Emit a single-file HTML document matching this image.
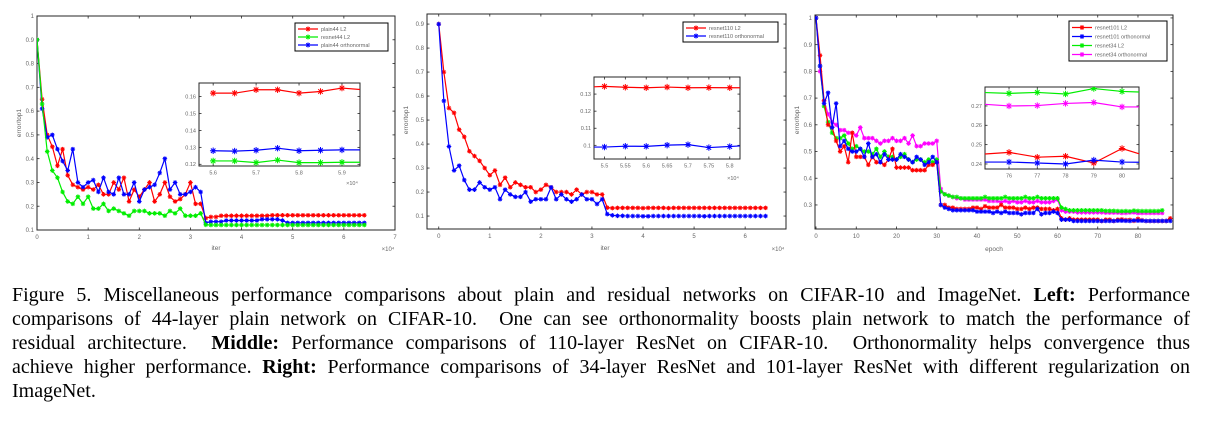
<!DOCTYPE html>
<html><head><meta charset="utf-8">
<style>
body{margin:0;background:#fff;width:1212px;height:429px;overflow:hidden;position:relative}
svg{position:absolute;left:0;top:0}
#cap{position:absolute;left:12px;top:283px;width:1178px;font-family:"Liberation Serif",serif;font-size:20px;line-height:24px;color:#000}
#cap div{text-align:justify;text-align-last:justify;white-space:nowrap;word-spacing:0}
#cap div.last{text-align-last:left}
</style></head><body>
<svg id="fig" width="1212" height="270"></svg>
<div id="cap">
<div>Figure 5. Miscellaneous performance comparisons about plain and residual networks on CIFAR-10 and ImageNet. <b>Left:</b> Performance</div>
<div>comparisons of 44-layer plain network on CIFAR-10. &nbsp;One can see orthonormality boosts plain network to match the performance of</div>
<div>residual architecture. &nbsp;<b>Middle:</b> Performance comparisons of 110-layer ResNet on CIFAR-10. &nbsp;Orthonormality helps convergence thus</div>
<div>achieve higher performance. <b>Right:</b> Performance comparisons of 34-layer ResNet and 101-layer ResNet with different regularization on</div>
<div class="last">ImageNet.</div>
</div>
<script>
// ---------- Chart 1 data (x in units of 1e4 iter, step 0.1) ----------
const c1_x = [0,0.1,0.2,0.3,0.4,0.5,0.6,0.7,0.8,0.9,1.0,1.1,1.2,1.3,1.4,1.5,1.6,1.7,1.8,1.9,2.0,2.1,2.2,2.3,2.4,2.5,2.6,2.7,2.8,2.9,3.0,3.1,3.2,3.3,3.4,3.5,3.6,3.7,3.8,3.9,4.0,4.1,4.2,4.3,4.4,4.5,4.6,4.7,4.8,4.9,5.0,5.1,5.2,5.3,5.4,5.5,5.6,5.7,5.8,5.9,6.0,6.1,6.2,6.3,6.4];
const c1_plainL2 = [0.9,0.65,0.50,0.45,0.37,0.44,0.33,0.29,0.28,0.27,0.28,0.27,0.29,0.25,0.25,0.30,0.27,0.32,0.22,0.27,0.24,0.27,0.30,0.22,0.25,0.30,0.24,0.22,0.23,0.25,0.30,0.21,0.21,0.15,0.155,0.155,0.16,0.16,0.16,0.16,0.16,0.16,0.16,0.16,0.16,0.16,0.162,0.162,0.162,0.162,0.162,0.162,0.162,0.162,0.162,0.162,0.162,0.162,0.162,0.162,0.162,0.162,0.162,0.162,0.162];
const c1_resL2 = [0.9,0.63,0.43,0.35,0.32,0.26,0.22,0.21,0.24,0.21,0.24,0.19,0.19,0.21,0.18,0.19,0.18,0.17,0.16,0.18,0.18,0.18,0.17,0.17,0.17,0.16,0.18,0.17,0.19,0.16,0.16,0.16,0.17,0.122,0.121,0.121,0.121,0.121,0.121,0.121,0.121,0.121,0.121,0.121,0.121,0.121,0.121,0.121,0.121,0.121,0.121,0.121,0.121,0.121,0.121,0.121,0.121,0.121,0.121,0.121,0.121,0.121,0.121,0.121,0.121];
const c1_plainOrth = [0.9,0.61,0.49,0.50,0.44,0.39,0.35,0.44,0.30,0.28,0.30,0.31,0.26,0.32,0.26,0.25,0.32,0.25,0.25,0.30,0.22,0.27,0.28,0.29,0.34,0.40,0.27,0.30,0.25,0.25,0.26,0.28,0.26,0.13,0.135,0.135,0.135,0.14,0.14,0.14,0.14,0.14,0.14,0.14,0.145,0.145,0.145,0.145,0.14,0.13,0.13,0.13,0.13,0.13,0.13,0.13,0.13,0.13,0.13,0.13,0.13,0.13,0.13,0.13,0.13];
const c1_yTicks = [0.1,0.2,0.3,0.4,0.5,0.6,0.7,0.8,0.9,1];
const c1_yLabels = ["0.1","0.2","0.3","0.4","0.5","0.6","0.7","0.8","0.9","1"];
const c1_xTicks = [0,1,2,3,4,5,6,7];
const c1_xLabels = ["0","1","2","3","4","5","6","7"];
const i1_x = [5.6,5.65,5.7,5.75,5.8,5.85,5.9,5.95,6.0];
const i1_plainL2 = [0.162,0.162,0.164,0.164,0.162,0.163,0.165,0.164,0.162];
const i1_resL2 = [0.122,0.122,0.121,0.1225,0.121,0.121,0.1212,0.1212,0.1212];
const i1_plainOrth = [0.128,0.1278,0.1283,0.1295,0.128,0.1283,0.1285,0.1285,0.128];
const i1_yTicks = [0.12,0.13,0.14,0.15,0.16];
const i1_yLabels = ["0.12","0.13","0.14","0.15","0.16"];
const i1_xTicks = [5.6,5.7,5.8,5.9];
const i1_xLabels = ["5.6","5.7","5.8","5.9"];

// ---------- Chart 2 data ----------
const c2_x = c1_x;
const c2_res110L2 = [0.9,0.70,0.55,0.53,0.46,0.43,0.37,0.35,0.33,0.30,0.27,0.29,0.23,0.26,0.22,0.24,0.23,0.22,0.22,0.20,0.21,0.23,0.22,0.20,0.20,0.20,0.19,0.21,0.19,0.20,0.20,0.19,0.19,0.135,0.133,0.134,0.134,0.134,0.134,0.134,0.133,0.134,0.134,0.134,0.134,0.133,0.134,0.134,0.134,0.134,0.134,0.134,0.134,0.134,0.134,0.134,0.134,0.134,0.134,0.134,0.134,0.134,0.134,0.134,0.134];
const c2_res110Orth = [0.9,0.58,0.39,0.29,0.31,0.25,0.21,0.21,0.24,0.22,0.21,0.22,0.17,0.21,0.19,0.18,0.18,0.20,0.16,0.17,0.17,0.17,0.22,0.17,0.19,0.17,0.16,0.17,0.19,0.17,0.17,0.15,0.17,0.108,0.103,0.101,0.101,0.1,0.1,0.1,0.099,0.099,0.1,0.1,0.1,0.1,0.1,0.1,0.1,0.1,0.1,0.1,0.099,0.1,0.1,0.1,0.1,0.1,0.1,0.1,0.1,0.1,0.1,0.1,0.1];
const c2_yTicks = [0.1,0.2,0.3,0.4,0.5,0.6,0.7,0.8,0.9];
const c2_yLabels = ["0.1","0.2","0.3","0.4","0.5","0.6","0.7","0.8","0.9"];
const c2_xTicks = [0,1,2,3,4,5,6];
const c2_xLabels = ["0","1","2","3","4","5","6"];
const i2_x = [5.45,5.5,5.55,5.6,5.65,5.7,5.75,5.8,5.85];
const i2_res110L2 = [0.134,0.1345,0.134,0.1337,0.1341,0.1337,0.1338,0.1337,0.1337];
const i2_res110Orth = [0.099,0.099,0.0995,0.0994,0.1001,0.1004,0.0987,0.0993,0.1];
const i2_yTicks = [0.1,0.11,0.12,0.13];
const i2_yLabels = ["0.1","0.11","0.12","0.13"];
const i2_xTicks = [5.5,5.55,5.6,5.65,5.7,5.75,5.8];
const i2_xLabels = ["5.5","5.55","5.6","5.65","5.7","5.75","5.8"];

// ---------- Chart 3 data (epoch) ----------
const c3_x = [0,1,2,3,4,5,6,7,8,9,10,11,12,13,14,15,16,17,18,19,20,21,22,23,24,25,26,27,28,29,30,31,32,33,34,35,36,37,38,39,40,41,42,43,44,45,46,47,48,49,50,51,52,53,54,55,56,57,58,59,60,61,62,63,64,65,66,67,68,69,70,71,72,73,74,75,76,77,78,79,80,81,82,83,84,85,86,87,88];
const c3_r101L2 = [1.0,0.86,0.69,0.60,0.59,0.54,0.50,0.52,0.46,0.57,0.48,0.48,0.48,0.45,0.48,0.46,0.46,0.45,0.47,0.51,0.44,0.44,0.44,0.44,0.43,0.43,0.43,0.43,0.45,0.45,0.46,0.30,0.30,0.29,0.29,0.285,0.285,0.285,0.285,0.29,0.29,0.285,0.295,0.29,0.29,0.29,0.30,0.29,0.29,0.29,0.285,0.285,0.29,0.285,0.29,0.29,0.285,0.285,0.285,0.28,0.285,0.25,0.245,0.25,0.245,0.245,0.245,0.245,0.245,0.245,0.245,0.24,0.245,0.245,0.24,0.245,0.246,0.2435,0.244,0.2405,0.248,0.243,0.24,0.24,0.24,0.24,0.24,0.24,0.25];
const c3_r101Orth = [1.0,0.82,0.68,0.72,0.59,0.68,0.52,0.54,0.51,0.50,0.50,0.51,0.48,0.53,0.48,0.49,0.46,0.49,0.47,0.47,0.47,0.49,0.48,0.47,0.46,0.48,0.47,0.45,0.46,0.48,0.46,0.30,0.29,0.285,0.28,0.28,0.28,0.28,0.28,0.28,0.275,0.275,0.275,0.275,0.27,0.275,0.27,0.275,0.27,0.27,0.27,0.265,0.27,0.27,0.27,0.285,0.265,0.27,0.27,0.275,0.27,0.245,0.245,0.245,0.24,0.24,0.24,0.24,0.24,0.24,0.24,0.24,0.24,0.24,0.24,0.241,0.241,0.2405,0.240,0.242,0.241,0.241,0.24,0.24,0.24,0.24,0.24,0.24,0.24];
const c3_r34L2 = [1.0,0.82,0.67,0.61,0.57,0.55,0.55,0.56,0.53,0.51,0.52,0.51,0.50,0.50,0.49,0.51,0.48,0.50,0.48,0.48,0.47,0.48,0.49,0.47,0.46,0.47,0.47,0.46,0.47,0.46,0.47,0.35,0.34,0.335,0.33,0.33,0.325,0.325,0.325,0.325,0.325,0.325,0.33,0.325,0.325,0.325,0.325,0.33,0.325,0.325,0.325,0.325,0.33,0.325,0.325,0.33,0.325,0.325,0.325,0.325,0.325,0.29,0.285,0.28,0.28,0.28,0.28,0.28,0.28,0.28,0.28,0.28,0.278,0.278,0.278,0.277,0.2765,0.277,0.2762,0.279,0.2775,0.277,0.277,0.277,0.277,0.277,0.28];
const c3_r34Orth = [1.0,0.80,0.69,0.64,0.61,0.60,0.58,0.58,0.57,0.57,0.56,0.59,0.55,0.55,0.55,0.54,0.53,0.54,0.54,0.55,0.54,0.54,0.55,0.53,0.56,0.52,0.52,0.53,0.53,0.53,0.54,0.36,0.34,0.335,0.33,0.325,0.325,0.32,0.32,0.32,0.32,0.32,0.32,0.315,0.315,0.315,0.31,0.315,0.31,0.315,0.31,0.31,0.315,0.31,0.31,0.315,0.31,0.31,0.31,0.315,0.32,0.28,0.275,0.275,0.275,0.272,0.272,0.272,0.272,0.272,0.272,0.272,0.271,0.271,0.271,0.271,0.270,0.2702,0.2713,0.2718,0.2695,0.27,0.27,0.27,0.27,0.27,0.27];
const c3_yTicks = [0.3,0.4,0.5,0.6,0.7,0.8,0.9,1];
const c3_yLabels = ["0.3","0.4","0.5","0.6","0.7","0.8","0.9","1"];
const c3_xTicks = [0,10,20,30,40,50,60,70,80];
const c3_xLabels = ["0","10","20","30","40","50","60","70","80"];
const i3_x = [75,76,77,78,79,80,81];
const i3_r101L2 = [0.245,0.246,0.2435,0.244,0.2405,0.248,0.2435];
const i3_r101Orth = [0.241,0.241,0.2405,0.240,0.242,0.241,0.2408];
const i3_r34L2 = [0.277,0.2765,0.277,0.2762,0.279,0.2775,0.277];
const i3_r34Orth = [0.271,0.270,0.2702,0.2713,0.2718,0.2695,0.2695];
const i3_yTicks = [0.24,0.25,0.26,0.27];
const i3_yLabels = ["0.24","0.25","0.26","0.27"];
const i3_xTicks = [76,77,78,79,80];
const i3_xLabels = ["76","77","78","79","80"];

const NS = "http://www.w3.org/2000/svg";
const svg = document.getElementById("fig");
const RED="#ff0000",GREEN="#00ee00",BLUE="#0000ff",MAG="#ff00ff";
let clipN = 0;
function mk(tag, parent, attrs){
  const e = document.createElementNS(NS, tag);
  for (const k in attrs) e.setAttribute(k, attrs[k]);
  parent.appendChild(e);
  return e;
}
function txt(parent, x, y, s, size, anchor, fill){
  const t = mk("text", parent, {x:x, y:y, "font-size":size, "text-anchor":anchor||"middle", fill:fill||"#666", "font-family":"Liberation Sans, sans-serif"});
  t.textContent = s;
  return t;
}
function axes(name, b, xd, yd, xt, xl, yt, yl, fs){
  const g = mk("g", svg, {});
  
  
  const sx = v => b.x0 + (v - xd[0]) / (xd[1] - xd[0]) * (b.x1 - b.x0);
  const sy = v => b.y1 - (v - yd[0]) / (yd[1] - yd[0]) * (b.y1 - b.y0);
  mk("rect", g, {x:b.x0, y:b.y0, width:b.x1-b.x0, height:b.y1-b.y0, fill:"#fff", stroke:"#262626", "stroke-width":1});
  const tl = fs > 6 ? 3 : 2.5;
  xt.forEach((v,i) => {
    const X = sx(v);
    mk("line", g, {x1:X, x2:X, y1:b.y1, y2:b.y1-tl, stroke:"#262626", "stroke-width":0.8});
    mk("line", g, {x1:X, x2:X, y1:b.y0, y2:b.y0+tl, stroke:"#262626", "stroke-width":0.8});
    const t = txt(g, X, b.y1 + fs + 3, xl[i], fs);
    
    
  });
  yt.forEach((v,i) => {
    const Y = sy(v);
    mk("line", g, {x1:b.x0, x2:b.x0+tl, y1:Y, y2:Y, stroke:"#262626", "stroke-width":0.8});
    mk("line", g, {x1:b.x1, x2:b.x1-tl, y1:Y, y2:Y, stroke:"#262626", "stroke-width":0.8});
    const t = txt(g, b.x0 - 3, Y + fs*0.35, yl[i], fs, "end");
    
    
  });
  const id = "clip" + (clipN++);
  const cp = mk("clipPath", svg, {id:id});
  mk("rect", cp, {x:b.x0, y:b.y0, width:b.x1-b.x0, height:b.y1-b.y0});
  const pg = mk("g", g, {"clip-path":"url(#"+id+")"});
  return {sx, sy, g, pg};
}
function star(parent, X, Y, r, col){
  let d = "";
  for (let k = 0; k < 4; k++){
    const a = k * Math.PI / 4;
    const dx = r*Math.cos(a), dy = r*Math.sin(a);
    d += "M"+(X-dx)+" "+(Y-dy)+"L"+(X+dx)+" "+(Y+dy);
  }
  mk("path", parent, {d:d, stroke:col, "stroke-width":1, fill:"none"});
}
function series(ax, name, xs, ys, col, r){
  const g = mk("g", ax.pg, {});
  
  
  const pts = xs.map((x,i) => ax.sx(x).toFixed(2)+","+ax.sy(ys[i]).toFixed(2)).join(" ");
  mk("polyline", g, {points:pts, fill:"none", stroke:col, "stroke-width":1.2});
  xs.forEach((x,i) => star(g, ax.sx(x), ax.sy(ys[i]), r, col));
}
function legend(name, x0, y0, w, rowH, entries){
  const g = mk("g", svg, {});
  
  
  mk("rect", g, {x:x0, y:y0, width:w, height:rowH*entries.length+4, fill:"#fff", stroke:"#000", "stroke-width":1});
  entries.forEach((e,i) => {
    const Y = y0 + 2 + rowH*(i+0.5);
    const eg = mk("g", g, {});
    
    
    mk("line", eg, {x1:x0+3, x2:x0+23, y1:Y, y2:Y, stroke:e[1], "stroke-width":1.2});
    star(eg, x0+13, Y, 2.5, e[1]);
    txt(eg, x0+26, Y+2, e[0], 5.5, "start", "#666");
  });
}

// Chart 1
const a1 = axes("chart-left-axes", {x0:37,x1:395,y0:16,y1:230}, [0,7], [0.1,1], c1_xTicks, c1_xLabels, c1_yTicks, c1_yLabels, 6);
series(a1, "series-plain44-l2", c1_x, c1_plainL2, RED, 2.3);
series(a1, "series-plain44-orthonormal", c1_x, c1_plainOrth, BLUE, 2.3);
series(a1, "series-resnet44-l2", c1_x, c1_resL2, GREEN, 2.3);
let t;
t = txt(svg, 216, 250, "iter", 6.5);  
t = txt(svg, 388, 251, "×10⁴", 6);  
t = txt(svg, 0, 0, "error/top1", 6.5); t.setAttribute('transform','translate(21,123) rotate(-90)');  
const in1 = axes("chart-left-inset", {x0:199,x1:360,y0:83,y1:166}, [5.567,5.942], [0.119,0.168], i1_xTicks, i1_xLabels, i1_yTicks, i1_yLabels, 5.5);
series(in1, "inset-plain44-l2", i1_x, i1_plainL2, RED, 3.2);
series(in1, "inset-plain44-orthonormal", i1_x, i1_plainOrth, BLUE, 3.2);
series(in1, "inset-resnet44-l2", i1_x, i1_resL2, GREEN, 3.2);
t = txt(svg, 352, 185, "×10⁴", 5.5);
legend("chart-left-legend", 295, 23, 93, 8, [["plain44    L2",RED],["resnet44    L2",GREEN],["plain44    orthonormal",BLUE]]);

// Chart 2
const a2 = axes("chart-middle-axes", {x0:427,x1:786,y0:14,y1:229}, [-0.23,6.8], [0.046,0.942], c2_xTicks, c2_xLabels, c2_yTicks, c2_yLabels, 6);
series(a2, "series-resnet110-l2", c2_x, c2_res110L2, RED, 2.3);
series(a2, "series-resnet110-orthonormal", c2_x, c2_res110Orth, BLUE, 2.3);
t = txt(svg, 605, 250, "iter", 6.5);  
t = txt(svg, 778, 251, "×10⁴", 6);
t = txt(svg, 0, 0, "error/top1", 6.5); t.setAttribute('transform','translate(408,120) rotate(-90)');  
const in2 = axes("chart-middle-inset", {x0:594,x1:740,y0:77,y1:159}, [5.475,5.8245], [0.092,0.14], i2_xTicks, i2_xLabels, i2_yTicks, i2_yLabels, 5.5);
series(in2, "inset-resnet110-l2", i2_x, i2_res110L2, RED, 3.2);
series(in2, "inset-resnet110-orthonormal", i2_x, i2_res110Orth, BLUE, 3.2);
t = txt(svg, 733, 180, "×10⁴", 5.5);
legend("chart-middle-legend", 683, 22, 95, 8, [["resnet110    L2",RED],["resnet110    orthonormal",BLUE]]);

// Chart 3
const a3 = axes("chart-right-axes", {x0:815,x1:1173,y0:15,y1:229}, [-0.25,88.7], [0.21,1.011], c3_xTicks, c3_xLabels, c3_yTicks, c3_yLabels, 6);
series(a3, "series-resnet34-orthonormal", c3_x, c3_r34Orth, MAG, 2.3);
series(a3, "series-resnet34-l2", c3_x.slice(0, c3_r34L2.length), c3_r34L2, GREEN, 2.3);
series(a3, "series-resnet101-l2", c3_x, c3_r101L2, RED, 2.3);
series(a3, "series-resnet101-orthonormal", c3_x, c3_r101Orth, BLUE, 2.3);
t = txt(svg, 994, 251, "epoch", 6.5);  
t = txt(svg, 0, 0, "error/top1", 6.5); t.setAttribute('transform','translate(799,120) rotate(-90)');  
const in3 = axes("chart-right-inset", {x0:985,x1:1139,y0:87,y1:169}, [75.15,80.6], [0.2374,0.2798], i3_xTicks, i3_xLabels, i3_yTicks, i3_yLabels, 5.5);
series(in3, "inset-resnet34-l2", i3_x, i3_r34L2, GREEN, 3.2);
series(in3, "inset-resnet34-orthonormal", i3_x, i3_r34Orth, MAG, 3.2);
series(in3, "inset-resnet101-l2", i3_x, i3_r101L2, RED, 3.2);
series(in3, "inset-resnet101-orthonormal", i3_x, i3_r101Orth, BLUE, 3.2);
legend("chart-right-legend", 1069, 21, 98, 9, [["resnet101    L2",RED],["resnet101    orthonormal",BLUE],["resnet34    L2",GREEN],["resnet34    orthonormal",MAG]]);
</script>
</body></html>
